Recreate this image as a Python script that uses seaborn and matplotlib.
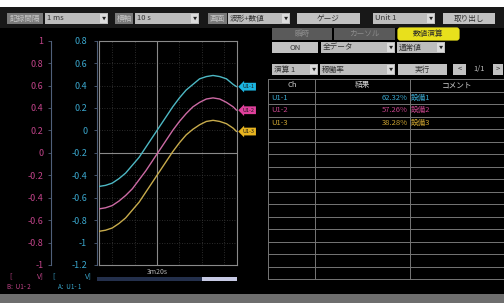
import matplotlib
matplotlib.use("Agg")
import matplotlib.pyplot as plt
import seaborn as sns
from matplotlib.patches import Rectangle, FancyBboxPatch
from matplotlib.ticker import FixedFormatter, FixedLocator

# waveform samples (time in s)
t_sec = [174, 177, 180, 183, 186, 189, 192, 195, 198, 201, 204, 207,
         210, 213, 216, 219, 222, 225, 228, 231, 234, 235.5]
u1_1 = [-0.50, -0.49, -0.47, -0.43, -0.38, -0.31, -0.24, -0.15, -0.06, 0.03, 0.12, 0.21,
        0.29, 0.36, 0.41, 0.46, 0.48, 0.49, 0.48, 0.46, 0.41, 0.39]   # scale A
u1_2 = [-0.50, -0.49, -0.47, -0.43, -0.38, -0.32, -0.24, -0.16, -0.07, 0.02, 0.11, 0.20,
        0.28, 0.35, 0.41, 0.45, 0.48, 0.49, 0.48, 0.45, 0.41, 0.38]   # scale B
u1_3 = [-0.90, -0.89, -0.87, -0.83, -0.78, -0.71, -0.64, -0.55, -0.46, -0.37, -0.28, -0.19,
        -0.11, -0.04, 0.01, 0.05, 0.08, 0.09, 0.08, 0.06, 0.02, -0.01]  # scale A

a_ticks = [0.8, 0.6, 0.4, 0.2, 0, -0.2, -0.4, -0.6, -0.8, -1, -1.2]
a_labels = ["0.8", "0.6", "0.4", "0.2", "0", "-0.2", "-0.4", "-0.6", "-0.8", "-1", "-1.2"]
b_ticks = [1, 0.8, 0.6, 0.4, 0.2, 0, -0.2, -0.4, -0.6, -0.8, -1]
b_labels = ["1", "0.8", "0.6", "0.4", "0.2", "0", "-0.2", "-0.4", "-0.6", "-0.8", "-1"]
x_grid = [180, 190, 200, 210, 220, 230]
cursor_t = 200
cursor_label = "3m20s"

channels = ["U1-1", "U1-2", "U1-3"]
results = ["62.32%", "57.26%", "38.28%"]
comments = ["設備1", "設備2", "設備3"]

CYAN, MAG, YEL = "#4db8c4", "#cc6aa4", "#c8ac4c"
TAG_C, TAG_M, TAG_Y = "#1bb4e0", "#e0409c", "#e8b420"
TXT_C, TXT_M, TXT_Y = "#3aa6cc", "#c2448a", "#c8a030"

sns.set_theme(style="dark")
plt.rcParams['font.family'] = ['Noto Sans CJK JP', 'DejaVu Sans']

W, H = 504, 303
fig = plt.figure(figsize=(W / 100, H / 100), dpi=100, facecolor="black")
bg = fig.add_axes([0, 0, 1, 1])
bg.set_xlim(0, W)
bg.set_ylim(H, 0)
bg.axis("off")


def box(x0, y0, x1, y1, fc, ec="none", lw=0.6, z=1):
    bg.add_patch(Rectangle((x0, y0), x1 - x0, y1 - y0, fc=fc, ec=ec, lw=lw, zorder=z))


def txt(x, y, s, c, fs=5.5, ha="left", z=3):
    bg.text(x, y, s, color=c, fontsize=fs, ha=ha, va="center", zorder=z)


def button(x0, y0, x1, y1, s, fc="#c2c2c2", tc="#333333"):
    box(x0, y0, x1, y1, fc)
    txt((x0 + x1) / 2, (y0 + y1) / 2, s, tc, ha="center")


def dropdown(x0, y0, x1, y1, s, fc="#bdbdbd", tc="#333333"):
    box(x0, y0, x1, y1, fc)
    box(x1 - 8, y0 + 1, x1 - 1, y1 - 1, "#dcdcdc")
    txt(x0 + 2, (y0 + y1) / 2, s, tc)
    txt(x1 - 4.5, (y0 + y1) / 2, "▼", "#222222", fs=3, ha="center")


# frame of the screen
box(0, 0, W, 7, "white")
box(0, 7, W, 28, "#181818")
box(0, 294, W, H, "#6e6e6e")

# top toolbar
box(7, 13, 43, 24, "#7a7a7a"); txt(25, 18.5, "記録間隔", "#c4c4c4", ha="center")
dropdown(45, 13, 108, 24, "1 ms")
box(115, 13, 133, 24, "#7a7a7a"); txt(124, 18.5, "横軸", "#c4c4c4", ha="center")
dropdown(135, 13, 199, 24, "10 s")
box(208, 13, 227, 24, "#7a7a7a"); txt(217.5, 18.5, "画面", "#c4c4c4", ha="center")
dropdown(228, 13, 290, 24, "波形+数値")
button(297, 13, 360, 24, "ゲージ")
dropdown(373, 13, 435, 24, "Unit 1")
button(443, 13, 495, 24, "取り出し")

# right panel: tabs and controls
box(272, 28, 332, 40, "#5a5a5a"); txt(302, 34, "瞬時", "#8c8c8c", ha="center")
box(334, 28, 395, 40, "#5a5a5a"); txt(364.5, 34, "カーソル", "#8c8c8c", ha="center")
bg.add_patch(FancyBboxPatch((398, 28), 61, 12, boxstyle="round,pad=0.6,rounding_size=3",
                            fc="#e8e01c", ec="none", zorder=1))
txt(428.5, 34, "数値演算", "#2a2a2a", ha="center")
button(272, 42, 318, 53, "ON")
dropdown(321, 42, 395, 53, "全データ")
dropdown(397, 42, 445, 53, "通常値")
dropdown(272, 64, 318, 75, "演算 1")
dropdown(320, 64, 395, 75, "稼働率")
button(398, 64, 447, 75, "実行")
button(453, 64, 466, 75, "<")
txt(479, 69.5, "1/1", "#bdbdbd", ha="center")
button(493, 64, 503, 75, ">")

# result table
row_h = 12.5
top = 79
n_rows = 16
for i in range(n_rows + 1):
    y = top + i * row_h
    bg.plot([268, 504], [y, y], color="#767676", lw=0.7, zorder=2)
for x in [268, 315, 410]:
    bg.plot([x, x], [top, top + n_rows * row_h], color="#767676", lw=0.7, zorder=2)
txt(292, top + row_h / 2, "Ch", "#d4d4d4", ha="center")
txt(362, top + row_h / 2, "結果", "#d4d4d4", ha="center")
txt(457, top + row_h / 2, "コメント", "#d4d4d4", ha="center")
for i, (ch, res, com, c) in enumerate(zip(channels, results, comments, [TXT_C, TXT_M, TXT_Y])):
    y = top + (i + 1.5) * row_h
    txt(271, y, ch, c)
    txt(408, y, res, c, ha="right")
    txt(411, y, com, c)

# bottom-left scale units
txt(9, 276, "[", TXT_M); txt(44, 276, "V]", TXT_M, ha="right")
txt(52, 276, "[", TXT_C); txt(92, 276, "V]", TXT_C, ha="right")
txt(7, 287, "B:  U1- 2", TXT_M, fs=4.5)
txt(58, 287, "A:  U1- 1", TXT_C, fs=4.5)

# scroll bar under the waveform
box(97, 277, 237, 281, "#24304c")
box(202, 277, 237, 281, "#c6c9e4")
txt(157, 271.5, cursor_label, "#b4b4b4", fs=5, ha="center")

# waveform area
ax = fig.add_axes([99 / W, 1 - 265 / H, 138 / W, 224.3 / H])
ax.set_facecolor("black")
for v in a_ticks:
    ax.axhline(v, color="#8a8a8a" if v == -0.2 else "#3a3a3a",
               lw=0.8 if v == -0.2 else 0.6, ls="-" if v == -0.2 else (0, (1, 2)), zorder=1)
for t in x_grid:
    ax.axvline(t, color="#8a8a8a" if t == cursor_t else "#3a3a3a",
               lw=0.8 if t == cursor_t else 0.6, ls="-" if t == cursor_t else (0, (1, 2)), zorder=1)
sns.lineplot(x=t_sec, y=u1_1, ax=ax, color=CYAN, lw=1, zorder=3)
sns.lineplot(x=t_sec, y=u1_3, ax=ax, color=YEL, lw=1, zorder=3)
ax.set_xlim(174.1, 235.7)
ax.set_ylim(-1.2, 0.8)
ax.set_xticks([])
ax.set_yticks([])
for s in ax.spines.values():
    s.set_color("#8a8a8a")
    s.set_linewidth(0.8)

# scale A (cyan) and scale B (magenta)
ax_a = ax.twinx()
ax_b = ax.twinx()
sns.lineplot(x=t_sec, y=u1_2, ax=ax_b, color=MAG, lw=1, zorder=3)
for axis, ticks, labels, lim, off, col, pad in [
        (ax_a, a_ticks, a_labels, (-1.2, 0.8), 1.5, TXT_C, 5),
        (ax_b, b_ticks, b_labels, (-1, 1), 34.5, TXT_M, 3.5)]:
    axis.set_ylim(*lim)
    axis.patch.set_visible(False)
    axis.yaxis.tick_left()
    axis.yaxis.set_major_locator(FixedLocator(ticks))
    axis.yaxis.set_major_formatter(FixedFormatter(labels))
    axis.tick_params(axis="y", colors="#50607a", labelcolor=col, labelsize=6.5,
                     length=2, width=0.6, pad=pad)
    axis.set_ylabel("")
    for name, s in axis.spines.items():
        s.set_visible(name == "left")
    axis.spines["left"].set_position(("outward", off))
    axis.spines["left"].set_color("#50607a")
    axis.spines["left"].set_linewidth(0.8)

# channel tags at the right edge
for axis, vals, name, fc in [(ax, u1_1, "U1-1", TAG_C), (ax_b, u1_2, "U1-2", TAG_M), (ax, u1_3, "U1-3", TAG_Y)]:
    axis.annotate(name, xy=(1, vals[-1]), xycoords=("axes fraction", "data"),
                  xytext=(4, 0), textcoords="offset points", fontsize=4, color="#1a1a1a",
                  va="center", ha="left", annotation_clip=False,
                  bbox=dict(boxstyle="larrow,pad=0.25", fc=fc, ec="none"))

fig.savefig("out.png", dpi=100, facecolor="black")
